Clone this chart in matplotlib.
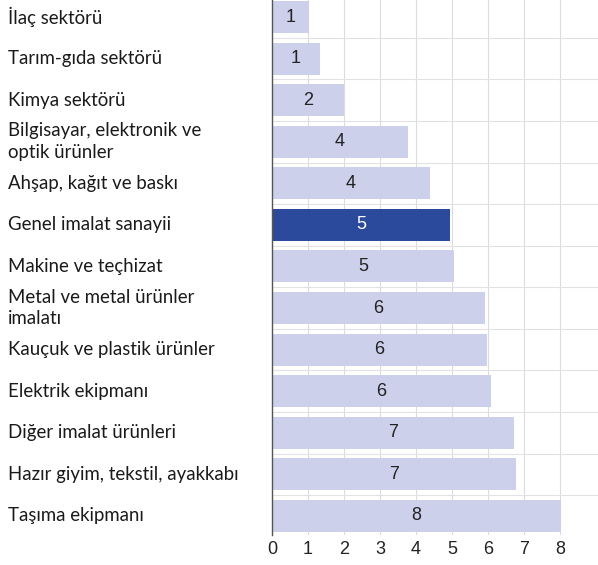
import matplotlib
matplotlib.use("Agg")
import matplotlib.pyplot as plt
from matplotlib.transforms import blended_transform_factory

# sectors, top to bottom
sectors = [
    "İlaç sektörü",
    "Tarım-gıda sektörü",
    "Kimya sektörü",
    "Bilgisayar, elektronik ve\noptik ürünler",
    "Ahşap, kağıt ve baskı",
    "Genel imalat sanayii",
    "Makine ve teçhizat",
    "Metal ve metal ürünler\nimalatı",
    "Kauçuk ve plastik ürünler",
    "Elektrik ekipmanı",
    "Diğer imalat ürünleri",
    "Hazır giyim, tekstil, ayakkabı",
    "Taşıma ekipmanı",
]
values = [1.03, 1.33, 2.0, 3.77, 4.39, 4.94, 5.06, 5.92, 5.97, 6.08, 6.72, 6.79, 8.02]
highlight = "Genel imalat sanayii"
xticks = [0, 1, 2, 3, 4, 5, 6, 7, 8]

light = "#cdd0ea"
dark = "#2b4a9b"
narrow = ["Liberation Sans", "DejaVu Sans"]
label_font = ["Lato", "DejaVu Sans"]

fig = plt.figure(figsize=(5.98, 5.65), dpi=100)
ax = fig.add_axes([272 / 598, 30 / 565, 1 - 272 / 598, 1 - 30 / 565])

ypos = list(range(len(sectors)))
colors = [dark if s == highlight else light for s in sectors]
ax.barh(ypos, values, height=0.77, color=colors, zorder=2)

for y, v, s in zip(ypos, values, sectors):
    col = "white" if s == highlight else "#222222"
    ax.text(v / 2, y, f"{round(v)}", ha="center", va="center",
            fontsize=13, color=col, family=narrow, zorder=3)

trans = blended_transform_factory(fig.transFigure, ax.transData)
for y, s in zip(ypos, sectors):
    ax.text(8 / 598, y, s, transform=trans, ha="left", va="center",
            fontsize=13.4, color="#1a1a1a", family=label_font, linespacing=1.35)

ax.set_xlim(0, 9.06)
ax.set_ylim(12.46, -0.41)
ax.set_xticks(xticks)
ax.set_xticklabels([str(t) for t in xticks], family=narrow, fontsize=13, color="#222222")
ax.set_yticks([])
ax.set_yticks([y + 0.5 for y in ypos[:-1]], minor=True)
ax.tick_params(axis="x", length=0, pad=4)
ax.tick_params(axis="y", which="minor", length=0)
ax.grid(axis="x", color="#dcdcdc", linewidth=0.8, zorder=0)
ax.grid(axis="y", which="minor", color="#e2e2e2", linewidth=0.8, zorder=0)

for side in ["top", "right", "bottom"]:
    ax.spines[side].set_visible(False)
ax.spines["left"].set_color("#555555")
ax.spines["left"].set_linewidth(1.0)

fig.savefig("out.png", dpi=100)
